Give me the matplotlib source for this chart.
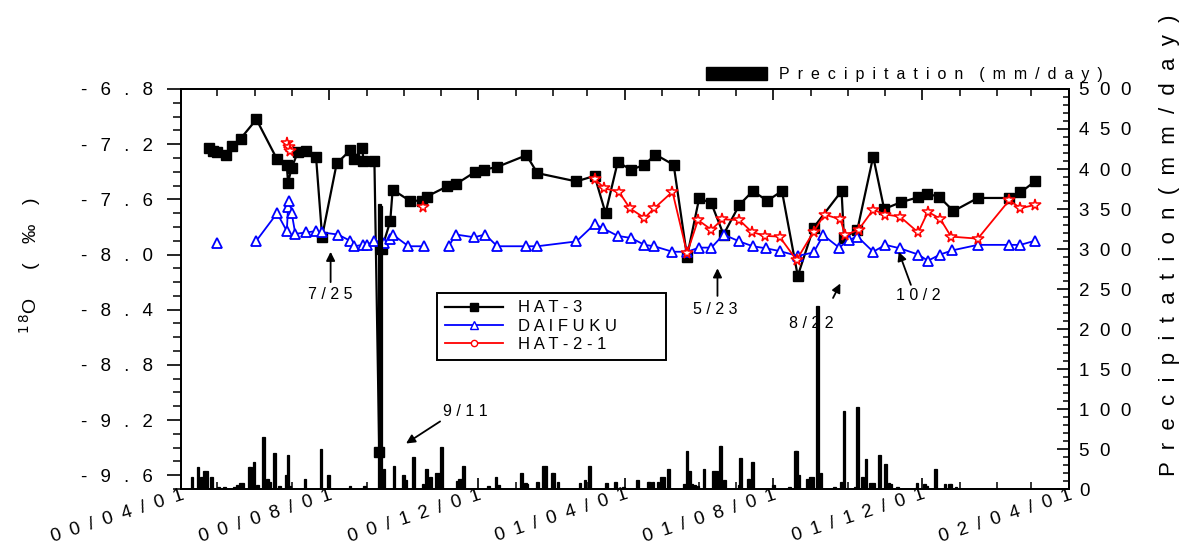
import matplotlib
matplotlib.use('Agg')
import matplotlib.pyplot as plt
import matplotlib.dates as mdates
from matplotlib.lines import Line2D
from matplotlib.patches import Patch
from matplotlib.ticker import MultipleLocator, FixedLocator
import numpy as np
import pandas as pd

plt.rcParams['font.family'] = ['Liberation Sans', 'DejaVu Sans']

# ---- data ----
hat3_dates = ['2000-04-24', '2000-04-27', '2000-05-01', '2000-05-08', '2000-05-13', '2000-05-20',
              '2000-06-02', '2000-06-19', '2000-06-27', '2000-06-28', '2000-07-01', '2000-07-06',
              '2000-07-13', '2000-07-21', '2000-07-26', '2000-08-07', '2000-08-18', '2000-08-21',
              '2000-08-28', '2000-08-29', '2000-09-07', '2000-09-11', '2000-09-13', '2000-09-20',
              '2000-09-22', '2000-10-06', '2000-10-16', '2000-10-20', '2000-11-06', '2000-11-13',
              '2000-11-29', '2000-12-06', '2000-12-17', '2001-01-10', '2001-01-19', '2001-02-20',
              '2001-03-07', '2001-03-16', '2001-03-26', '2001-04-06', '2001-04-17', '2001-04-26',
              '2001-05-11', '2001-05-22', '2001-06-01', '2001-06-11', '2001-06-21', '2001-07-04',
              '2001-07-15', '2001-07-27', '2001-08-08', '2001-08-21', '2001-09-03', '2001-09-26',
              '2001-09-28', '2001-10-09', '2001-10-22', '2001-10-31', '2001-11-14', '2001-11-28',
              '2001-12-05', '2001-12-15', '2001-12-27', '2002-01-16', '2002-02-11', '2002-02-20',
              '2002-03-04']
hat3_vals = [-7.23, -7.25, -7.26, -7.28, -7.21, -7.16,
             -7.02, -7.31, -7.35, -7.48, -7.37, -7.26,
             -7.25, -7.29, -7.87, -7.34, -7.245, -7.31,
             -7.23, -7.32, -7.32, -9.43, -7.96, -7.76,
             -7.53, -7.61, -7.61, -7.58, -7.505, -7.49,
             -7.40, -7.385, -7.365, -7.28, -7.41, -7.47,
             -7.43, -7.70, -7.33, -7.385, -7.35, -7.275,
             -7.35, -8.015, -7.59, -7.63, -7.855, -7.64,
             -7.54, -7.61, -7.54, -8.155, -7.805, -7.54,
             -7.88, -7.82, -7.29, -7.67, -7.62, -7.585,
             -7.56, -7.58, -7.685, -7.59, -7.59, -7.55,
             -7.47]

daifuku_dates = ['2000-05-01', '2000-05-15', '2000-06-02', '2000-06-19', '2000-06-27', '2000-06-28',
                 '2000-06-29', '2000-07-01', '2000-07-04', '2000-07-13', '2000-07-21', '2000-07-26',
                 '2000-08-08', '2000-08-18', '2000-08-21', '2000-08-29', '2000-09-01', '2000-09-07',
                 '2000-09-15', '2000-09-20', '2000-09-22', '2000-10-05', '2000-10-18', '2000-10-28',
                 '2000-11-07', '2000-11-13', '2000-11-28', '2000-12-07', '2000-12-17', '2001-01-10',
                 '2001-01-19', '2001-02-20', '2001-03-07', '2001-03-14', '2001-03-26', '2001-04-06',
                 '2001-04-17', '2001-04-25', '2001-05-10', '2001-05-22', '2001-06-01', '2001-06-11',
                 '2001-06-21', '2001-07-04', '2001-07-15', '2001-07-26', '2001-08-06', '2001-08-21',
                 '2001-09-03', '2001-09-11', '2001-09-24', '2001-10-02', '2001-10-09', '2001-10-22',
                 '2001-11-01', '2001-11-13', '2001-11-28', '2001-12-06', '2001-12-16', '2001-12-26',
                 '2002-01-16', '2002-02-11', '2002-02-20', '2002-03-04']
daifuku_vals = [-7.915, np.nan, -7.90, -7.70, -7.83, -7.655,
                -7.61, -7.70, -7.85, -7.84, -7.83, -7.84,
                -7.855, -7.90, -7.94, -7.93, -7.93, -7.90,
                -7.915, -7.89, -7.855, -7.94, -7.94, np.nan,
                -7.94, -7.855, -7.875, -7.855, -7.94, -7.94,
                -7.94, -7.905, -7.78, -7.81, -7.865, -7.88,
                -7.93, -7.94, -7.98, -7.98, -7.95, -7.95,
                -7.855, -7.905, -7.94, -7.955, -7.975, -8.01,
                -7.985, -7.86, -7.95, -7.895, -7.87, -7.98,
                -7.93, -7.955, -8.00, -8.045, -8.00, -7.97,
                -7.93, -7.93, -7.93, -7.90]

hat21_dates = ['2000-06-27', '2000-06-29', '2000-06-30', '2000-08-15', '2000-10-17', '2000-12-01',
               '2001-03-07', '2001-03-15', '2001-03-27', '2001-04-05', '2001-04-17', '2001-04-25',
               '2001-05-10', '2001-05-22', '2001-05-31', '2001-06-11', '2001-06-20', '2001-07-04',
               '2001-07-14', '2001-07-25', '2001-08-06', '2001-08-20', '2001-09-03', '2001-09-12',
               '2001-09-25', '2001-09-29', '2001-10-10', '2001-10-22', '2001-11-01', '2001-11-13',
               '2001-11-28', '2001-12-06', '2001-12-16', '2001-12-25', '2002-01-16', '2002-02-11',
               '2002-02-20', '2002-03-04']
hat21_vals = [-7.19, -7.22, -7.25, np.nan, -7.655, np.nan,
              -7.45, -7.52, -7.545, -7.665, -7.735, -7.665,
              -7.545, -7.99, -7.75, -7.82, -7.745, -7.75,
              -7.835, -7.865, -7.87, -8.04, -7.835, -7.71,
              -7.745, -7.86, -7.82, -7.675, -7.71, -7.725,
              -7.84, -7.69, -7.74, -7.87, -7.885, -7.605,
              -7.665, -7.64]

rain_dates = ['2000-04-10', '2000-04-15', '2000-04-18', '2000-04-20', '2000-04-22', '2000-04-26',
              '2000-05-02', '2000-05-07', '2000-05-15', '2000-05-17', '2000-05-20', '2000-05-22',
              '2000-05-27', '2000-05-28', '2000-05-31', '2000-06-03', '2000-06-08', '2000-06-11',
              '2000-06-13', '2000-06-17', '2000-06-21', '2000-06-27', '2000-06-28', '2000-06-29',
              '2000-07-12', '2000-07-25', '2000-07-31', '2000-08-18', '2000-08-30', '2000-09-11',
              '2000-09-12', '2000-09-15', '2000-09-23', '2000-10-01', '2000-10-03', '2000-10-09',
              '2000-10-17', '2000-10-20', '2000-10-23', '2000-10-28', '2000-10-30', '2000-11-01',
              '2000-11-14', '2000-11-16', '2000-11-18', '2000-11-19', '2000-12-10', '2000-12-16',
              '2000-12-18', '2001-01-06', '2001-01-09', '2001-01-10', '2001-01-19', '2001-01-24',
              '2001-01-26', '2001-01-31', '2001-02-01', '2001-02-05', '2001-02-23', '2001-02-27',
              '2001-03-03', '2001-03-17', '2001-03-24', '2001-03-31', '2001-04-11', '2001-04-20',
              '2001-04-21', '2001-04-24', '2001-04-28', '2001-05-01', '2001-05-03', '2001-05-07',
              '2001-05-20', '2001-05-22', '2001-05-24', '2001-05-26', '2001-05-28', '2001-05-31',
              '2001-06-05', '2001-06-13', '2001-06-15', '2001-06-18', '2001-06-19', '2001-06-22',
              '2001-07-04', '2001-07-05', '2001-07-11', '2001-07-12', '2001-07-15', '2001-08-01',
              '2001-08-14', '2001-08-19', '2001-08-20', '2001-08-22', '2001-08-29', '2001-08-31',
              '2001-09-02', '2001-09-06', '2001-09-09', '2001-09-20', '2001-09-26', '2001-09-28',
              '2001-10-07', '2001-10-09', '2001-10-13', '2001-10-16', '2001-10-20', '2001-10-22',
              '2001-10-27', '2001-11-01', '2001-11-04', '2001-11-05', '2001-11-11', '2001-11-27',
              '2001-12-03', '2001-12-05', '2001-12-12', '2001-12-20', '2001-12-24', '2001-12-25',
              '2001-12-29']
rain_vals = [15, 27, 15, 22, 22, 15,
             3, 2, 2, 5, 8, 7,
             27, 27, 34, 5, 65, 12,
             9, 45, 4, 18, 43, 4,
             12, 50, 18, 4, 4, 356,
             354, 25, 29, 17, 11, 40,
             6, 25, 15, 20, 20, 52,
             10, 13, 13, 29, 4, 15,
             5, 20, 8, 6, 9, 29,
             29, 20, 20, 9, 7, 11,
             29, 7, 9, 3, 11, 9,
             9, 9, 9, 15, 15, 25,
             6, 47, 22, 6, 5, 4,
             25, 22, 22, 54, 54, 11,
             5, 39, 12, 12, 34, 5,
             3, 47, 47, 18, 13, 15,
             15, 229, 20, 3, 9, 97,
             2, 102, 15, 37, 7, 8,
             42, 31, 8, 6, 3, 8,
             6, 4, 25, 6, 6, 6,
             2]

xtick_dates = ['2000-04-01', '2000-08-01', '2000-12-01', '2001-04-01',
               '2001-08-01', '2001-12-01', '2002-04-01']
xtick_labels = ['00/04/01', '00/08/01', '00/12/01', '01/04/01',
                '01/08/01', '01/12/01', '02/04/01']
left_ticks = [-6.8, -7.2, -7.6, -8.0, -8.4, -8.8, -9.2, -9.6]
right_ticks = [0, 50, 100, 150, 200, 250, 300, 350, 400, 450, 500]


def sp(s, sep=' '):
    return sep.join(list(s))


EN = '\u2002'
WIDE = '\u2002\u2009'

fig = plt.figure(figsize=(11.93, 5.47), dpi=100)
ax = fig.add_axes([0.1517, 0.106, 0.7444, 0.7313])
ax2 = ax.twinx()

# precipitation bars (right axis)
ax2.bar(pd.to_datetime(rain_dates), rain_vals, width=2.2, color='black',
        edgecolor='black', linewidth=0.9, align='center', zorder=1)
ax2.set_ylim(0, 500)

# isotope series (left axis)
ax.plot(pd.to_datetime(hat3_dates), hat3_vals, color='black', lw=1.6,
        marker='s', ms=6.8, mfc='black', mec='black', zorder=3)
ax.plot(pd.to_datetime(daifuku_dates), daifuku_vals, color='blue', lw=1.3,
        marker='^', ms=7, mfc='white', mec='blue', mew=1.3, zorder=3)
ax.plot(pd.to_datetime(hat21_dates), hat21_vals, color='red', lw=1.3,
        marker='*', ms=8.5, mfc='white', mec='red', mew=1.1, zorder=3)

ax.set_ylim(-9.7, -6.8)
ax.set_xlim(pd.Timestamp('2000-04-01'), pd.Timestamp('2002-04-01'))

# axes / ticks
for a in (ax, ax2):
    for s in a.spines.values():
        s.set_linewidth(1.3)

ax.set_yticks(left_ticks)
ax.set_yticklabels([sp('%.1f' % v, WIDE) for v in left_ticks], fontsize=13.5)
ax.yaxis.set_minor_locator(MultipleLocator(0.1))
ax.tick_params(axis='y', which='major', direction='out', length=10, width=1.2, pad=10)
ax.tick_params(axis='y', which='minor', direction='out', length=5.5, width=1.1)

ax.xaxis.set_major_locator(FixedLocator(mdates.date2num(pd.to_datetime(xtick_dates))))
ax.xaxis.set_minor_locator(mdates.MonthLocator())
ax.set_xticklabels([sp(l, EN) for l in xtick_labels], fontsize=13.5,
                   rotation=18, ha='right', va='top', rotation_mode='anchor')
ax.tick_params(axis='x', which='major', direction='in', length=8, width=1.2,
               top=True, pad=-2)
ax.tick_params(axis='x', which='minor', direction='in', length=5, width=1.1, top=True)

ax2.set_yticks(right_ticks)
ax2.set_yticklabels([sp(str(v), '  ') for v in right_ticks], fontsize=13.5)
ax2.yaxis.set_minor_locator(MultipleLocator(10))
ax2.tick_params(axis='y', which='major', direction='in', length=9, width=1.2, pad=7)
ax2.tick_params(axis='y', which='minor', direction='in', length=4, width=1.1)

# axis titles
fig.text(30 / 1193, 1 - 265 / 547, '$^{1\\,8}$O' + EN * 3 + sp('(‰)', EN * 2),
         rotation=90, ha='center', va='center', fontsize=14)
fig.text(1170 / 1193, 1 - 245 / 547, sp('Precipitation(mm/day)', '  '),
         rotation=90, ha='center', va='center', fontsize=16)

# annotations
arrow = dict(arrowstyle='-|>', color='black', lw=1.3, mutation_scale=13,
             shrinkA=0, shrinkB=0)
notes = [('7/25', '2000-08-02', -8.29, '2000-08-02', -7.98, '2000-08-02', -8.20),
         ('5/23', '2001-06-14', -8.40, '2001-06-16', -8.10, '2001-06-16', -8.30),
         ('8/22', '2001-09-01', -8.50, '2001-09-25', -8.21, '2001-09-19', -8.315),
         ('10/2', '2001-11-28', -8.30, '2001-11-12', -7.98, '2001-11-22', -8.22),
         ('9/11', '2000-11-21', -9.14, '2000-10-03', -9.37, '2000-10-31', -9.21)]
for txt, td, tv, hd, hv, sd, sv in notes:
    ax.annotate('', xy=(pd.Timestamp(hd), hv), xytext=(pd.Timestamp(sd), sv),
                arrowprops=arrow, zorder=5)
    ax.text(pd.Timestamp(td), tv, sp(txt), ha='center', va='center', fontsize=11.5, zorder=5)

# legends
handles = [Line2D([], [], color='black', lw=1.6, marker='s', ms=6, mfc='black'),
           Line2D([], [], color='blue', lw=1.3, marker='^', ms=6, mfc='white', mec='blue'),
           Line2D([], [], color='red', lw=1.3, marker='o', ms=4.5, mfc='white', mec='red')]
labels = [sp('HAT-3'), sp('DAIFUKU') + EN * 5, sp('HAT-2-1')]
leg1 = ax2.legend(handles, labels,
                  loc='upper left', bbox_to_anchor=(437 / 1193, 1 - 293 / 547),
                  bbox_transform=fig.transFigure, fontsize=12, frameon=True,
                  fancybox=False, edgecolor='black', framealpha=1,
                  handlelength=3.5, handletextpad=0.9, labelspacing=0.2,
                  borderpad=0.45, borderaxespad=0)
leg1.get_frame().set_linewidth(1.4)
leg1.set_zorder(10)
ax2.add_artist(leg1)

leg2 = ax2.legend([Patch(facecolor='black', edgecolor='black')],
                  [sp('Precipitation', EN) + EN * 2 + sp('(mm/day)', EN)],
                  loc='lower left', bbox_to_anchor=(706 / 1193, 1 - 82 / 547),
                  bbox_transform=fig.transFigure, fontsize=11.5, frameon=False,
                  handlelength=3.8, handleheight=0.85, handletextpad=0.75,
                  borderpad=0, borderaxespad=0)

fig.savefig('out.png', dpi=100)
